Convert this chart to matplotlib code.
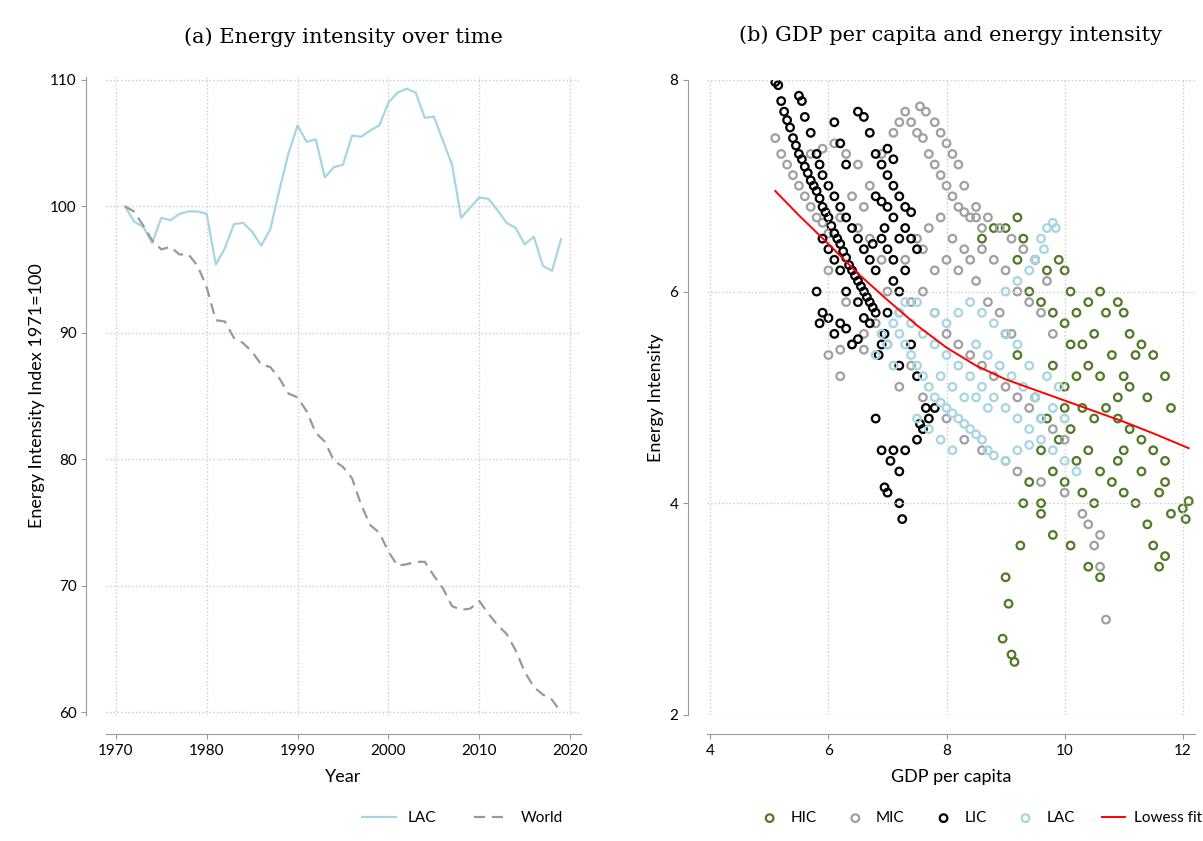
import numpy as np
import matplotlib
matplotlib.use("Agg")
import matplotlib.pyplot as plt

plt.rcParams['font.family'] = ['Lato', 'DejaVu Sans']

years = list(range(1971, 2020))
lac_index = [100, 98.8, 98.4, 97.1, 99.1, 98.9, 99.4, 99.6, 99.6, 99.4,
             95.4, 96.7, 98.6, 98.7, 98.0, 96.9, 98.2, 101.3, 104.2, 106.4,
             105.1, 105.3, 102.3, 103.1, 103.3, 105.6, 105.5, 106.0, 106.4, 108.2,
             109.0, 109.3, 109.0, 107.0, 107.1, 105.2, 103.3, 99.1, 99.9, 100.7,
             100.6, 99.7, 98.7, 98.3, 97.0, 97.6, 95.3, 94.9, 97.4]
world_index = [100, 99.6, 98.5, 97.3, 96.6, 96.8, 96.2, 96.2, 95.3, 93.6,
               91.0, 90.9, 89.6, 89.2, 88.5, 87.5, 87.3, 86.4, 85.2, 84.9,
               83.8, 82.1, 81.4, 79.9, 79.4, 78.5, 76.4, 74.8, 74.2, 72.7,
               71.6, 71.7, 71.9, 71.9, 70.8, 69.8, 68.4, 68.1, 68.2, 68.8,
               67.8, 66.9, 66.2, 64.9, 63.2, 62.0, 61.4, 61.0, 60.0]

# (gdp per capita, energy intensity)
lic_pts = [(5.10,7.98),(5.15,7.95),(5.2,7.8),(5.25,7.7),(5.3,7.62),(5.35,7.55),(5.4,7.45),(5.45,7.38),(5.5,7.3),(5.55,7.25),
    (5.6,7.18),(5.65,7.12),(5.7,7.05),(5.75,7.0),(5.8,6.95),(5.85,6.88),(5.9,6.8),(5.95,6.75),(6.0,6.7),(6.05,6.62),
    (6.1,6.55),(6.15,6.5),(6.2,6.45),(6.25,6.38),(6.3,6.32),(6.35,6.25),(6.4,6.2),(6.45,6.15),(6.5,6.1),(6.55,6.05),
    (6.6,6.0),(6.65,5.95),(6.7,5.9),(6.75,5.85),(6.8,5.8),
    (5.5,7.85),(5.55,7.8),(5.6,7.65),(5.7,7.5),(5.8,7.3),(5.85,7.2),(5.9,7.1),(6.0,7.0),(6.1,6.9),(6.2,6.8),
    (6.3,6.7),(6.4,6.6),(6.5,6.5),(6.6,6.4),(6.7,6.3),
    (5.8,6.0),(5.9,5.8),(5.85,5.7),(6.0,5.75),(6.1,5.6),(6.2,5.7),(6.3,5.65),(6.4,5.5),(6.5,5.55),(6.2,6.2),
    (6.1,6.3),(6.0,6.4),(5.9,6.5),(6.3,6.0),(6.5,5.9),(6.6,5.75),(6.7,5.7),(6.85,5.4),(6.9,5.5),(6.95,5.6),(7.0,5.8),
    (6.8,6.9),(6.9,6.85),(7.0,6.8),(7.1,6.7),(6.9,6.5),(7.0,6.4),(7.1,6.3),(6.8,6.2),(7.2,6.5),(7.3,6.6),
    (7.4,6.5),(7.5,6.4),(7.3,6.2),(7.2,6.0),(7.1,6.1),(6.95,6.6),(6.75,6.45),
    (6.5,7.7),(6.6,7.65),(6.7,7.5),(6.8,7.3),(6.9,7.2),(7.0,7.1),(7.1,7.0),(7.2,6.9),(7.3,6.8),(7.4,6.75),
    (7.0,7.35),(7.1,7.25),(6.1,7.6),(6.2,7.4),(6.3,7.2),
    (6.8,4.8),(6.9,4.5),(6.95,4.15),(7.0,4.1),(7.05,4.4),(7.1,4.5),(7.2,4.3),(7.25,3.85),(7.2,4.0),(7.3,4.5),
    (7.5,4.6),(7.6,4.7),(7.7,4.8),(7.8,4.9),(7.65,4.9),(7.55,4.75),(7.2,5.3),(7.4,5.5),(7.5,5.2)]
mic_pts = [(5.1,7.45),(5.2,7.3),(5.3,7.2),(5.4,7.1),(5.5,7.0),(5.6,6.9),(5.7,6.8),(5.8,6.7),(5.9,6.65),(6.0,6.55),
    (5.7,7.3),(5.9,7.35),(6.1,7.4),(6.3,7.3),(6.5,7.2),(6.7,7.0),(6.9,7.3),(7.1,7.5),(7.2,7.6),(7.3,7.7),
    (7.4,7.6),(7.5,7.5),(7.6,7.45),(7.7,7.3),(7.8,7.2),(7.9,7.1),(8.0,7.0),(8.1,6.9),(8.2,6.8),(8.3,6.75),
    (8.4,6.7),(8.5,6.7),(8.6,6.6),(7.55,7.75),(7.65,7.7),(7.8,7.6),(7.9,7.5),(8.0,7.4),(8.1,7.3),(8.2,7.2),(8.3,7.0),
    (6.5,6.6),(6.7,6.5),(6.9,6.3),(7.0,6.0),(7.2,5.8),(7.4,5.9),(7.6,6.0),(7.8,6.2),(8.0,6.3),(8.2,6.2),
    (8.4,6.3),(8.6,6.4),(8.8,6.3),(9.0,6.2),(9.2,6.0),(9.4,5.9),(9.6,5.8),(9.8,5.6),(7.5,6.5),(7.7,6.6),
    (7.9,6.7),(8.1,6.5),(8.3,6.4),(8.5,6.1),(8.7,5.9),(8.9,5.8),(9.1,5.6),(7.3,6.3),(7.6,6.4),(7.8,5.8),
    (8.0,5.6),(8.2,5.5),(8.4,5.4),(8.6,5.3),(8.8,5.2),(9.0,5.1),(9.2,5.0),(9.4,4.9),(9.6,4.8),(9.8,4.7),(10.0,4.6),
    (6.0,5.4),(6.2,5.45),(6.4,5.5),(6.6,5.45),(6.2,5.2),(7.6,5.0),(7.8,4.9),(8.0,4.8),(8.3,4.6),(8.6,4.5),
    (9.0,4.4),(9.2,4.3),(9.6,4.2),(10.0,4.1),(10.3,3.9),(10.5,3.6),(10.6,3.4),(10.7,2.9),(10.4,3.8),(10.6,3.7),
    (6.4,6.9),(6.6,6.8),(6.2,6.7),(6.0,6.2),(6.3,5.9),(6.6,5.6),(6.8,5.7),(8.5,6.8),(8.7,6.7),(8.9,6.6),
    (9.1,6.5),(9.3,6.4),(9.5,6.3),(9.7,6.1),(7.0,5.5),(7.4,5.3),(7.2,5.1)]
lac_pts = [(6.8,5.4),(6.9,5.6),(7.0,5.5),(7.1,5.3),(7.2,5.6),(7.3,5.5),(7.4,5.4),(7.5,5.3),(7.6,5.2),(7.7,5.1),
    (7.8,5.0),(7.9,4.95),(8.0,4.9),(8.1,4.85),(8.2,4.8),(8.3,4.75),(8.4,4.7),(8.5,4.65),(8.6,4.6),(8.7,4.5),
    (8.8,4.45),(9.0,4.4),(9.2,4.5),(9.4,4.55),(9.6,4.6),(9.8,4.5),(10.0,4.4),(10.2,4.3),
    (7.2,5.8),(7.4,5.7),(7.6,5.6),(7.8,5.5),(8.0,5.4),(8.2,5.3),(8.4,5.2),(8.6,5.1),(8.8,5.0),(9.0,4.9),
    (9.2,4.8),(9.4,4.7),(9.6,4.8),(9.8,4.9),(10.0,4.8),
    (7.8,5.8),(8.0,5.7),(8.2,5.8),(8.4,5.9),(8.6,5.8),(8.8,5.7),(9.0,5.6),(9.2,5.5),(9.4,5.3),(9.0,6.0),
    (9.2,6.1),(9.4,6.2),(9.5,6.3),(9.6,6.5),(9.7,6.6),(9.8,6.65),(9.85,6.6),(9.65,6.4),
    (7.5,4.8),(7.7,4.7),(7.9,4.6),(8.1,4.5),(8.3,5.0),(8.5,5.0),(8.7,4.9),(9.1,5.2),(9.3,5.1),(9.5,5.0),
    (9.7,5.2),(9.9,5.1),(8.9,5.3),(8.1,5.1),(7.9,5.2),(7.3,5.9),(7.1,5.7),(7.5,5.9),(8.5,5.5),(8.7,5.4)]
hic_pts = [(8.6,6.5),(8.8,6.6),(9.0,6.6),(9.2,6.7),(9.3,6.5),(9.5,6.3),(9.7,6.2),(9.9,6.3),(10.0,6.2),(10.1,6.0),
    (9.6,5.9),(9.8,5.8),(10.0,5.7),(10.2,5.8),(10.4,5.9),(10.6,6.0),(10.3,5.5),(10.5,5.6),(10.7,5.8),(10.9,5.9),
    (11.0,5.8),(11.1,5.6),(11.2,5.4),(10.2,5.2),(10.4,5.3),(10.6,5.2),(10.8,5.4),(11.0,5.2),(11.3,5.5),(11.5,5.4),
    (11.7,5.2),(11.8,4.9),(9.8,5.3),(10.0,5.1),(9.5,5.0),(9.7,4.8),(10.0,4.9),(10.3,4.9),(10.5,4.8),(10.7,4.9),
    (10.9,4.8),(11.1,4.7),(11.3,4.6),(11.5,4.5),(11.7,4.4),(9.6,4.5),(9.8,4.3),(10.0,4.2),(10.2,4.4),(10.4,4.5),
    (10.6,4.3),(10.8,4.2),(11.0,4.1),(11.2,4.0),(11.4,3.8),(11.5,3.6),(11.6,3.4),(11.7,3.5),(9.4,4.2),(9.3,4.0),
    (9.6,3.9),(9.8,3.7),(10.1,3.6),(10.4,3.4),(10.6,3.3),(9.0,3.3),(9.05,3.05),(8.95,2.72),(9.1,2.57),(9.15,2.5),
    (9.25,3.6),(9.6,4.0),(10.3,4.1),(10.5,4.0),(10.9,4.4),(11.3,4.3),(11.6,4.1),(11.7,4.2),(12.0,3.95),(12.05,3.85),
    (12.1,4.02),(11.8,3.9),(9.2,6.3),(9.4,6.0),(9.0,5.6),(9.2,5.4),(10.1,5.5),(10.9,5.0),(11.1,5.1),(9.9,4.6),
    (10.1,4.7),(11.0,4.5),(11.4,5.0)]
lowess_x = [5.1, 5.5, 6.0, 6.5, 7.0, 7.5, 8.0, 8.5, 9.0, 9.5, 10.0, 10.5, 11.0, 11.5, 12.1]
lowess_y = [6.95, 6.72, 6.45, 6.17, 5.92, 5.68, 5.47, 5.3, 5.17, 5.07, 4.97, 4.87, 4.77, 4.66, 4.52]

fig = plt.figure(figsize=(12.03, 8.41), dpi=100)
ax1 = fig.add_axes([0.088, 0.15, 0.395, 0.758])
ax2 = fig.add_axes([0.588, 0.15, 0.405, 0.755])

def style(ax):
    for s in ['top', 'right']:
        ax.spines[s].set_visible(False)
    for s in ['left', 'bottom']:
        ax.spines[s].set_color('#999999')
        ax.spines[s].set_position(('outward', 14))
    ax.tick_params(colors='#999999', labelcolor='black', labelsize=11)
    ax.grid(True, linestyle=':', color='#cccccc', linewidth=1)

style(ax1)
ax1.plot(years, lac_index, color='#a6d5e3', lw=1.6, label='LAC')
ax1.plot(years, world_index, color='#999999', lw=1.6, ls=(0, (5, 3)), label='World')
ax1.set_xlim(1968.9, 2021.2)
ax1.set_ylim(59.8, 110.2)
ax1.set_xticks([1970, 1980, 1990, 2000, 2010, 2020])
ax1.set_yticks([60, 70, 80, 90, 100, 110])
ax1.set_xlabel('Year', fontsize=13, labelpad=8)
ax1.set_ylabel('Energy Intensity Index 1971=100', fontsize=13)
ax1.set_title('(a) Energy intensity over time', fontname='DejaVu Serif', fontsize=15, pad=25)
ax1.legend(loc='upper center', bbox_to_anchor=(0.75, -0.13), ncol=2, frameon=False,
           fontsize=11, handlelength=2.2, columnspacing=2.5)

style(ax2)
groups = [(hic_pts, '#4f7a28', 'HIC'), (mic_pts, '#a0a0a0', 'MIC'),
          (lic_pts, 'black', 'LIC'), (lac_pts, '#a6d5e3', 'LAC')]
for pts, col, lab in groups:
    arr = np.array(pts)
    ax2.scatter(arr[:, 0], arr[:, 1], s=30, facecolors='none', edgecolors=col,
                linewidths=1.6, label=lab)
ax2.plot(lowess_x, lowess_y, color='red', lw=1.4, label='Lowess fit')
ax2.set_xlim(3.95, 12.2)
ax2.set_ylim(2, 8)
ax2.set_xticks([4, 6, 8, 10, 12])
ax2.set_yticks([2, 4, 6, 8])
ax2.set_xlabel('GDP per capita', fontsize=13, labelpad=8)
ax2.set_ylabel('Energy Intensity', fontsize=13)
ax2.set_title('(b) GDP per capita and energy intensity', fontname='DejaVu Serif', fontsize=15, pad=28)
ax2.legend(loc='upper center', bbox_to_anchor=(0.56, -0.13), ncol=5, frameon=False,
           fontsize=11, handlelength=1.5, columnspacing=1.8, handletextpad=0.6)

fig.savefig('out.png', dpi=100)
